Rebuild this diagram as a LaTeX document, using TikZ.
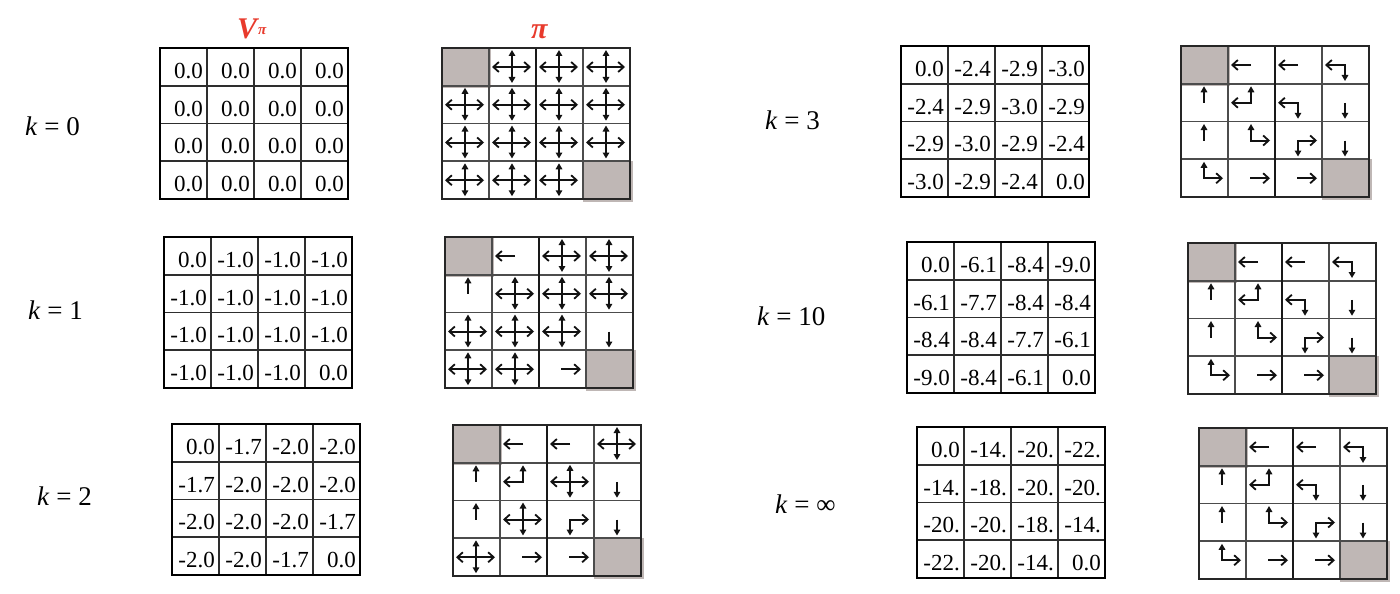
\documentclass[tikz,border=0pt]{standalone}
\usepackage{fontspec}
\setmainfont{Liberation Serif}
\usetikzlibrary{arrows.meta}
\definecolor{cellgray}{RGB}{191,183,181}
\definecolor{hdrred}{RGB}{232,58,44}
\definecolor{arrc}{RGB}{18,18,18}
\tikzset{
  hbarb/.tip={Straight Barb[length=5.5pt,width=10pt,line width=1.8pt]},
  vtri/.tip={Triangle[length=6pt,width=6.5pt]},
  arrline/.style={line width=2pt, draw=arrc, line join=miter},
  valtext/.style={anchor=base east, inner sep=0pt, font=\fontsize{23}{26}\selectfont},
  klabel/.style={anchor=base west, inner sep=0pt, font=\fontsize{27}{30}\selectfont},
  hdr/.style={anchor=base west, inner sep=0pt, text=hdrred, font=\fontsize{30}{34}\selectfont\bfseries\itshape},
  hdrsub/.style={anchor=base west, inner sep=0pt, text=hdrred, font=\fontsize{15}{17}\selectfont\bfseries\itshape},
  vouter/.style={line width=2.8pt, draw=black},
  vinner/.style={line width=1.8pt, draw=black!82},
  pouter/.style={line width=2.5pt, draw=black!85},
  pinner/.style={line width=1.7pt, draw=black!70},
  pmid/.style={line width=2pt, draw=black!90},
  pics/pN/.style={code={}},
  pics/pA/.style={code={
    \draw[arrline, hbarb-hbarb] (3,19) -- (42,19);
    \draw[arrline, vtri-vtri] (23,2) -- (23,35);}},
  pics/pL/.style={code={\draw[arrline, -hbarb] (23,19) -- (3,19);}},
  pics/pR/.style={code={\draw[arrline, -hbarb] (22,19) -- (42,19);}},
  pics/pU/.style={code={\draw[arrline, -vtri] (23,19) -- (23,2.5);}},
  pics/pD/.style={code={\draw[arrline, -vtri] (23,19) -- (23,35);}},
  pics/pLU/.style={code={\draw[arrline, hbarb-vtri] (3,19) -- (23,19) -- (23,2.5);}},
  pics/pLD/.style={code={\draw[arrline, hbarb-vtri] (3,19) -- (23,19) -- (23,35);}},
  pics/pUR/.style={code={\draw[arrline, vtri-hbarb] (23,2.5) -- (23,19) -- (42,19);}},
  pics/pRD/.style={code={\draw[arrline, hbarb-vtri] (42,19) -- (23,19) -- (23,35);}},
}
\newcommand\valgrid[4]{%
  \begin{scope}[shift={(#2,#3)}]
    \foreach \vv [count=\ii from 0] in {#4} {
      \pgfmathtruncatemacro\myr{\ii/4}
      \pgfmathtruncatemacro\myc{mod(\ii,4)}
      \node[valtext] (#1-\ii) at ({(\myc+1)*47-4},{(\myr+1)*37.75-7.5}) {\vv};
    }
    \draw[vinner] (47,0) -- (47,151) (94,0) -- (94,151) (141,0) -- (141,151)
      (0,37.75) -- (188,37.75) (0,75.5) -- (188,75.5) (0,113.25) -- (188,113.25);
    \draw[vouter] (0,0) rectangle (188,151);
  \end{scope}}
\newcommand\polgrid[4]{%
  \begin{scope}[shift={(#2,#3)}]
    \fill[cellgray] (0,0) rectangle (49,39.5);
    \fill[cellgray] (141,113.25) rectangle (191,154);
    \draw[pinner] (47,0) -- (47,151) (141,0) -- (141,151)
      (0,37.75) -- (188,37.75) (0,75.5) -- (188,75.5) (0,113.25) -- (188,113.25);
    \draw[pmid] (94,0) -- (94,151);
    \draw[pouter] (0,0) rectangle (188,151);
    \foreach \pp [count=\ii from 0] in {#4} {
      \pgfmathtruncatemacro\myr{\ii/4}
      \pgfmathtruncatemacro\myc{mod(\ii,4)}
      \pic (#1-\ii) at ({\myc*47},{\myr*37.75}) {\pp};
    }
  \end{scope}}
\begin{document}
\begin{tikzpicture}[x=1pt,y=-1pt]
  \useasboundingbox (0,0) rectangle (1400,594);
  \fill[white] (0,0) rectangle (1400,594);
  % headers
  \node[hdr] (hv) at (237,39) {V};
  \node[hdrsub] (hvp) at (258,35) {π};
  \node[hdr] (hp) at (531,39) {π};
  % labels
  \node[klabel] (k0) at (25,135) {\textit{k} = 0};
  \node[klabel] (k1) at (28,319) {\textit{k} = 1};
  \node[klabel] (k2) at (37,505) {\textit{k} = 2};
  \node[klabel] (k3) at (765,129) {\textit{k} = 3};
  \node[klabel] (k10) at (757,325) {\textit{k} = 10};
  \node[klabel] (kinf) at (775,513) {\textit{k} = ∞};
  % value grids
  \valgrid{v0}{160}{48}{0.0,0.0,0.0,0.0,0.0,0.0,0.0,0.0,0.0,0.0,0.0,0.0,0.0,0.0,0.0,0.0}
  \valgrid{v1}{164}{237}{0.0,-1.0,-1.0,-1.0,-1.0,-1.0,-1.0,-1.0,-1.0,-1.0,-1.0,-1.0,-1.0,-1.0,-1.0,0.0}
  \valgrid{v2}{172}{424}{0.0,-1.7,-2.0,-2.0,-1.7,-2.0,-2.0,-2.0,-2.0,-2.0,-2.0,-1.7,-2.0,-2.0,-1.7,0.0}
  \valgrid{v3}{901}{46}{0.0,-2.4,-2.9,-3.0,-2.4,-2.9,-3.0,-2.9,-2.9,-3.0,-2.9,-2.4,-3.0,-2.9,-2.4,0.0}
  \valgrid{v10}{907}{242}{0.0,-6.1,-8.4,-9.0,-6.1,-7.7,-8.4,-8.4,-8.4,-8.4,-7.7,-6.1,-9.0,-8.4,-6.1,0.0}
  \valgrid{vinf}{917}{427}{0.0,-14.,-20.,-22.,-14.,-18.,-20.,-20.,-20.,-20.,-18.,-14.,-22.,-20.,-14.,0.0}
  % policy grids
  \polgrid{p0}{442}{48}{pN,pA,pA,pA,pA,pA,pA,pA,pA,pA,pA,pA,pA,pA,pA,pN}
  \polgrid{p1}{445}{237}{pN,pL,pA,pA,pU,pA,pA,pA,pA,pA,pA,pD,pA,pA,pR,pN}
  \polgrid{p2}{453}{425}{pN,pL,pL,pA,pU,pLU,pA,pD,pU,pA,pRD,pD,pA,pR,pR,pN}
  \polgrid{p3}{1181}{46}{pN,pL,pL,pLD,pU,pLU,pLD,pD,pU,pUR,pRD,pD,pUR,pR,pR,pN}
  \polgrid{p10}{1188}{243}{pN,pL,pL,pLD,pU,pLU,pLD,pD,pU,pUR,pRD,pD,pUR,pR,pR,pN}
  \polgrid{pinf}{1199}{428}{pN,pL,pL,pLD,pU,pLU,pLD,pD,pU,pUR,pRD,pD,pUR,pR,pR,pN}
\end{tikzpicture}
\end{document}
